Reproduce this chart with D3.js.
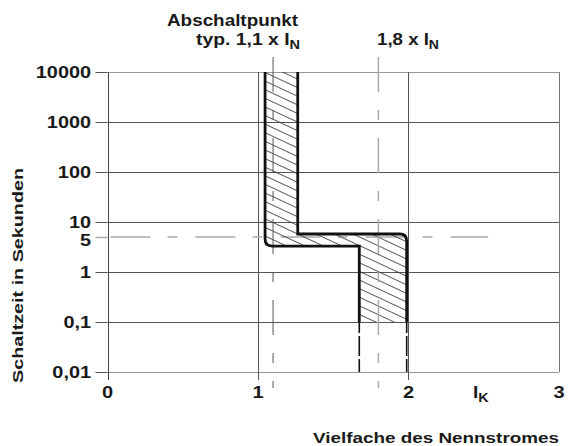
<!DOCTYPE html>
<html><head><meta charset="utf-8">
<script src="https://cdn.jsdelivr.net/npm/d3@7"></script>
<style>
body{margin:0;background:#fff;}
text{font-family:"Liberation Sans",Arial,Helvetica,sans-serif;font-weight:bold;fill:#1a1a1a;}
</style></head>
<body><svg id="c" width="568" height="446"></svg>
<script>
// ---- data ----
const yTicks = [0.01, 0.1, 1, 5, 10, 100, 1000, 10000];
const yTickLabels = ["0,01", "0,1", "1", "5", "10", "100", "1000", "10000"];
const yGrid = [0.01, 0.1, 1, 10, 100, 1000, 10000];
const xTicks = [0, 1, 2, 3];
const xTickLabels = ["0", "1", "2", "3"];
const xGrid = [1, 2, 3];
// tripping band boundaries [multiple of I_N, seconds]
const leftBoundary  = [[1.047, 10000], [1.047, 3.3], [1.673, 3.3], [1.673, 0.1]];
const rightBoundary = [[1.264, 10000], [1.264, 5.75], [1.988, 5.75], [1.988, 0.1]];
const tailX = [1.673, 1.988];          // dashed continuations below 0.1 s
const markersX = [1.1, 1.8];           // typ. 1,1 x I_N and 1,8 x I_N
const markerTime = 5;                  // dashed 5 s line

const svg = d3.select("#c");
const x = d3.scaleLinear().domain([0, 3]).range([107.5, 559]);
const y = d3.scaleLog().domain([0.01, 10000]).range([372, 72]);

// stretch helper: the reference face is wider than Liberation Sans Bold
function widen(sel, k) {
  sel.each(function () {
    const L = this.getComputedTextLength();
    d3.select(this).attr("textLength", L * k).attr("lengthAdjust", "spacingAndGlyphs");
  });
}
function fitTo(sel, len) {
  sel.attr("textLength", len).attr("lengthAdjust", "spacingAndGlyphs");
}

// hatch pattern
const defs = svg.append("defs");
const pat = defs.append("pattern").attr("id", "hatch").attr("patternUnits", "userSpaceOnUse")
  .attr("width", 20).attr("height", 7.8).attr("patternTransform", "rotate(25)");
pat.append("line").attr("x1", 0).attr("x2", 20).attr("y1", 0.5).attr("y2", 0.5)
  .attr("stroke", "#333").attr("stroke-width", 0.8);

// grid horizontal
svg.append("g").selectAll("line").data(yGrid).join("line")
  .attr("x1", x(0)).attr("x2", x(3))
  .attr("y1", d => Math.round(y(d)) + 0.5).attr("y2", d => Math.round(y(d)) + 0.5)
  .attr("stroke", d => (d === 10000 || d === 0.01) ? "#999" : "#555").attr("stroke-width", 1);

// y tick marks
svg.append("g").selectAll("line").data(yTicks).join("line")
  .attr("x1", x(0) - 12).attr("x2", x(0))
  .attr("y1", d => Math.round(y(d)) + 0.5).attr("y2", d => Math.round(y(d)) + 0.5)
  .attr("stroke", d => d === 5 ? "#aaa" : "#555").attr("stroke-width", d => d === 5 ? 1.5 : 1);

// vertical grid
svg.append("g").selectAll("line").data(xGrid).join("line")
  .attr("x1", d => Math.round(x(d)) + 0.5).attr("x2", d => Math.round(x(d)) + 0.5)
  .attr("y1", y(10000)).attr("y2", d => d === 3 ? y(0.01) : y(0.01) + 8)
  .attr("stroke", d => d === 3 ? "#777" : "#555").attr("stroke-width", 1);

// left axis with tick at 0
svg.append("line").attr("x1", Math.round(x(0)) + 0.5).attr("x2", Math.round(x(0)) + 0.5)
  .attr("y1", y(10000)).attr("y2", y(0.01) + 8).attr("stroke", "#444").attr("stroke-width", 1);

// dashed 5 s line
svg.append("line").attr("x1", x(0) + 3).attr("x2", x(2.53))
  .attr("y1", y(markerTime)).attr("y2", y(markerTime))
  .attr("stroke", "#aaa").attr("stroke-width", 1.5).attr("stroke-dasharray", "40,17,10,18");

// hatched band
const poly = leftBoundary.concat(rightBoundary.slice().reverse());
svg.append("path").attr("d", d3.line().x(d => x(d[0])).y(d => y(d[1]))(poly) + "Z")
  .attr("fill", "url(#hatch)").attr("stroke", "none");

// marker lines 1,1 and 1,8
svg.append("g").selectAll("line").data(markersX).join("line")
  .attr("x1", d => x(d)).attr("x2", d => x(d))
  .attr("y1", 57).attr("y2", 388)
  .attr("stroke", (d, i) => i === 0 ? "#555" : "#aaa").attr("stroke-width", (d, i) => i === 0 ? 1 : 1.5)
  .attr("stroke-dasharray", "35,18,10,18");

// boundary path with selected rounded corners
function roundedPath(pts, roundIdx, r) {
  const p = pts.map(d => [x(d[0]), y(d[1])]);
  let s = "M" + p[0][0] + "," + p[0][1];
  for (let i = 1; i < p.length; i++) {
    if (roundIdx.includes(i) && i < p.length - 1) {
      const a = p[i - 1], b = p[i], c = p[i + 1];
      const d1 = Math.hypot(b[0] - a[0], b[1] - a[1]), d2 = Math.hypot(c[0] - b[0], c[1] - b[1]);
      const p1 = [b[0] + (a[0] - b[0]) * r / d1, b[1] + (a[1] - b[1]) * r / d1];
      const p2 = [b[0] + (c[0] - b[0]) * r / d2, b[1] + (c[1] - b[1]) * r / d2];
      s += "L" + p1[0] + "," + p1[1] + "Q" + b[0] + "," + b[1] + " " + p2[0] + "," + p2[1];
    } else s += "L" + p[i][0] + "," + p[i][1];
  }
  return s;
}
svg.append("path").attr("d", roundedPath(leftBoundary, [1], 7))
  .attr("fill", "none").attr("stroke", "#111").attr("stroke-width", 2.8);
svg.append("path").attr("d", roundedPath(rightBoundary, [2], 7))
  .attr("fill", "none").attr("stroke", "#111").attr("stroke-width", 2.8);

// dashed tails
svg.append("g").selectAll("line").data(tailX).join("line")
  .attr("x1", d => x(d)).attr("x2", d => x(d))
  .attr("y1", y(0.1)).attr("y2", y(0.01))
  .attr("stroke", "#111").attr("stroke-width", 1.6).attr("stroke-dasharray", "11,3,20,3,20,3");

// y tick labels
const yl = svg.append("g").selectAll("text").data(yTicks).join("text")
  .attr("x", 91).attr("y", d => y(d) + (d === 5 ? 3 : 0)).attr("dy", "0.36em")
  .attr("text-anchor", "end").attr("font-size", 16).text((d, i) => yTickLabels[i]);
widen(yl, 1.24);

// x tick labels
const xl = svg.append("g").selectAll("text").data(xTicks).join("text")
  .attr("x", d => x(d)).attr("y", 398)
  .attr("text-anchor", "middle").attr("font-size", 16).text((d, i) => xTickLabels[i]);
widen(xl, 1.25);

// I_K
const ik = svg.append("text").attr("x", 473).attr("y", 398).attr("font-size", 16);
ik.append("tspan").text("I");
ik.append("tspan").attr("font-size", 12).attr("dy", 4).text("K");
widen(ik, 1.2);

// titles
fitTo(svg.append("text").attr("x", 167).attr("y", 26).attr("font-size", 16).text("Abschaltpunkt"), 131);
const t1 = svg.append("text").attr("x", 196).attr("y", 45).attr("font-size", 16);
t1.append("tspan").text("typ. 1,1 x I");
t1.append("tspan").attr("font-size", 12).attr("dy", 4).text("N");
fitTo(t1, 104);
const t2 = svg.append("text").attr("x", 377).attr("y", 45).attr("font-size", 16);
t2.append("tspan").text("1,8 x I");
t2.append("tspan").attr("font-size", 12).attr("dy", 4).text("N");
fitTo(t2, 62);

fitTo(svg.append("text").attr("x", 313).attr("y", 443)
  .attr("font-size", 15).text("Vielfache des Nennstromes"), 246);

fitTo(svg.append("text").attr("transform", "translate(23,383) rotate(-90)")
  .attr("font-size", 15).text("Schaltzeit in Sekunden"), 215);
</script></body></html>
